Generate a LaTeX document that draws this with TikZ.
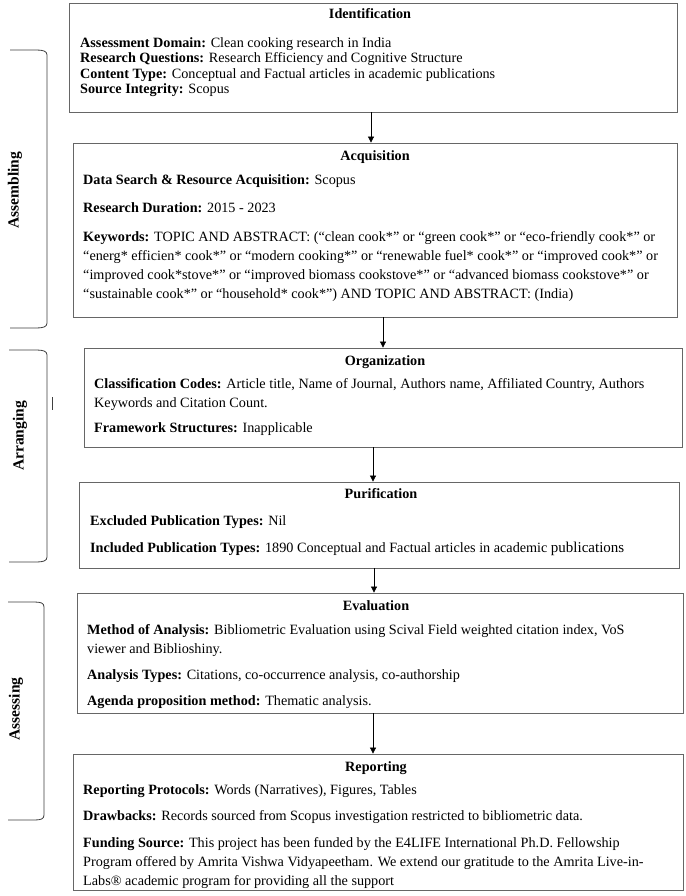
\documentclass[tikz,border=0pt]{standalone}
\usepackage{fontspec}
\setmainfont{Liberation Serif}
\usetikzlibrary{arrows.meta}
\tikzset{
  stage/.style={draw=black!60, line width=0.8pt, rectangle, inner sep=0pt},
  ttl/.style={font=\fontsize{14.2}{15}\selectfont\bfseries, inner sep=0pt, anchor=base},
  txt/.style={font=\fontsize{14.2}{15}\selectfont, inner sep=0pt, anchor=base west},
  arr/.style={draw=black, line width=0.7pt, -{Triangle[length=6pt,width=6pt]}},
  brk/.style={draw=black!75, line width=0.8pt},
  side/.style={font=\fontsize{15.5}{16}\selectfont\bfseries, rotate=90, inner sep=0pt}
}
\begin{document}
\begin{tikzpicture}[x=1pt,y=-1pt]
\useasboundingbox (0,0) rectangle (685,896);
\fill[white] (0,0) rectangle (685,896);

% boxes
\node[stage, minimum width=608pt, minimum height=109pt] (ident) at (373,57.5) {};
\node[stage, minimum width=604pt, minimum height=174pt] (acq) at (375,230) {};
\node[stage, minimum width=598pt, minimum height=99pt] (org) at (383,397.5) {};
\node[stage, minimum width=600pt, minimum height=86pt] (pur) at (379,525) {};
\node[stage, minimum width=606pt, minimum height=120pt] (eval) at (380,653) {};
\node[stage, minimum width=610pt, minimum height=136pt] (rep) at (378,822) {};

% Identification
\node[ttl] (identT) at (370,19) {Identification};
\node[txt] (i1) at (80,48) {\textbf{Assessment Domain:} Clean cooking research in India};
\node[txt] (i2) at (80,63) {\textbf{Research Questions:} Research Efficiency and Cognitive Structure};
\node[txt] (i3) at (80,79) {\textbf{Content Type:} Conceptual and Factual articles in academic publications};
\node[txt] (i4) at (80,94) {\textbf{Source Integrity:} Scopus};

% Acquisition
\node[ttl] (acqT) at (375,161) {Acquisition};
\node[txt] (a1) at (83,185) {\textbf{Data Search \& Resource Acquisition:} Scopus};
\node[txt] (a2) at (83,212) {\textbf{Research Duration:} 2015 - 2023};
\node[txt] (a3) at (83,241) {\textbf{Keywords:} TOPIC AND ABSTRACT: (“clean cook*” or “green cook*” or “eco-friendly cook*” or};
\node[txt] (a4) at (83,260) {“energ* efficien* cook*” or “modern cooking*” or “renewable fuel* cook*” or “improved cook*” or};
\node[txt] (a5) at (83,279) {“improved cook*stove*” or “improved biomass cookstove*” or “advanced biomass cookstove*” or};
\node[txt] (a6) at (83,298) {“sustainable cook*” or “household* cook*”) AND TOPIC AND ABSTRACT: (India)};

% Organization
\node[ttl] (orgT) at (385,365) {Organization};
\node[txt] (o1) at (94,388) {\textbf{Classification Codes:} Article title, Name of Journal, Authors name, Affiliated Country, Authors};
\node[txt] (o2) at (94,407) {Keywords and Citation Count.};
\node[txt] (o3) at (94,432) {\textbf{Framework Structures:} Inapplicable};

% Purification
\node[ttl] (purT) at (381,498) {Purification};
\node[txt] (p1) at (90,525) {\textbf{Excluded Publication Types:} Nil};
\node[txt] (p2) at (90,552) {\textbf{Included Publication Types:} 1890 Conceptual and Factual articles in academic {\fontsize{15}{15}\selectfont publications}};

% Evaluation
\node[ttl] (evalT) at (376,610) {Evaluation};
\node[txt] (e1) at (87,634) {\textbf{Method of Analysis:} Bibliometric Evaluation using Scival Field weighted citation index, VoS};
\node[txt] (e2) at (87,653) {viewer and Biblioshiny.};
\node[txt] (e3) at (87,679) {\textbf{Analysis Types:} Citations, co-occurrence analysis, co-authorship};
\node[txt] (e4) at (87,705) {\textbf{Agenda proposition method:} Thematic analysis.};

% Reporting
\node[ttl] (repT) at (376,771) {Reporting};
\node[txt] (r1) at (83,794) {\textbf{Reporting Protocols:} Words (Narratives), Figures, Tables};
\node[txt] (r2) at (83,820) {\textbf{Drawbacks:} Records sourced from Scopus investigation restricted to bibliometric data.};
\node[txt] (r3) at (83,847) {\textbf{Funding Source:} This project has been funded by the E4LIFE International Ph.D. Fellowship};
\node[txt] (r4) at (83,866) {Program offered by Amrita Vishwa Vidyapeetham. We extend our gratitude to the Amrita Live-in-};
\node[txt] (r5) at (83,885) {Labs® academic program for providing all the support};

% arrows
\draw[arr] ([xshift=-2pt]ident.south) -- ([xshift=-2pt]ident.south |- acq.north);
\draw[arr] (org.north |- acq.south) -- (org.north);
\draw[arr] ([xshift=-10pt]org.south) -- ([xshift=-10pt]org.south |- pur.north);
\draw[arr] ([xshift=-5pt]pur.south) -- ([xshift=-5pt]pur.south |- eval.north);
\draw[arr] ([xshift=-7pt]eval.south) -- ([xshift=-7pt]eval.south |- rep.north);

% side brackets
\draw[brk] (10,50) -- (36,50) .. controls (43,50) and (47,51) .. (47,55) -- (47,323) .. controls (47,327) and (43,328) .. (36,328) -- (10,328);
\draw[brk] (9,350) -- (36,350) .. controls (43,350) and (47,351) .. (47,355) -- (47,557) .. controls (47,561) and (43,562) .. (36,562) -- (9,562);
\draw[brk] (8,602) -- (34,602) .. controls (41,602) and (44,603) .. (44,607) -- (44,815) .. controls (44,819) and (41,820) .. (34,820) -- (8,820);
\draw[brk] (52,397) -- (52,410);

\node[side] (assembling) at (15,190) {Assembling};
\node[side] (arranging) at (20,436) {Arranging};
\node[side] (assessing) at (16,709) {Assessing};
\end{tikzpicture}
\end{document}
